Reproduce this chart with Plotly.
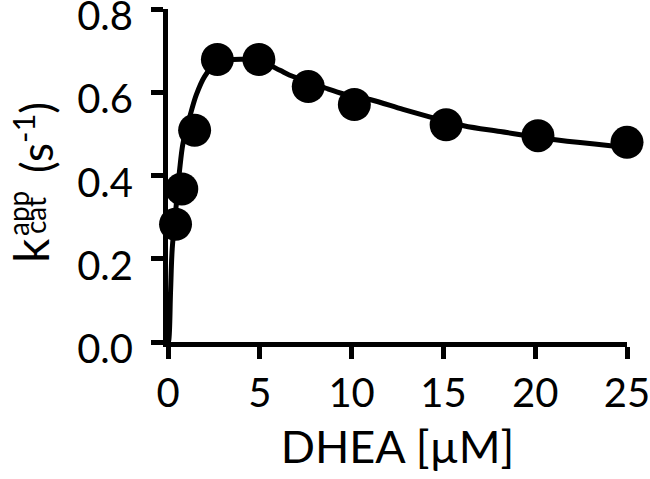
import plotly.graph_objects as go

# measured data points
dhea_uM = [0.41, 0.75, 1.45, 2.69, 4.95, 7.64, 10.15, 15.15, 20.15, 25.0]
kcat_app = [0.283, 0.368, 0.509, 0.679, 0.679, 0.614, 0.571, 0.522, 0.496, 0.480]

# fitted curve
curve_x = [0, 0.04, 0.14, 0.23, 0.45, 0.63, 0.81, 1.0, 1.27, 1.54, 1.99, 2.5, 3.2, 4.0,
           5.0, 6.1, 6.6, 7.6, 8.6, 9.6, 11.0, 12.8, 14.1, 16.1, 18.1, 21.1, 24.1, 25]
curve_y = [0, 0.004, 0.122, 0.224, 0.33, 0.413, 0.476, 0.51, 0.555, 0.594, 0.638, 0.665,
           0.677, 0.680, 0.676, 0.653, 0.642, 0.626, 0.610, 0.596, 0.583, 0.559, 0.543,
           0.520, 0.506, 0.486, 0.472, 0.469]

x_ticks = [0, 5, 10, 15, 20, 25]
y_ticks = [0.0, 0.2, 0.4, 0.6, 0.8]
y_tick_text = ["0.0", "0.2", "0.4", "0.6", "0.8"]

FONT = "Lato"
W, H = 650, 479
L, R, T, B = 168, 23, 9, 137
PW, PH = W - L - R, H - T - B


def px2paper(px, py):
    return (px - L) / PW, (H - B - py) / PH


fig = go.Figure()
fig.add_trace(go.Scatter(x=curve_x, y=curve_y, mode="lines",
                         line=dict(color="black", width=5, shape="spline"),
                         hoverinfo="skip", showlegend=False))
fig.add_trace(go.Scatter(x=dhea_uM, y=kcat_app, mode="markers",
                         marker=dict(color="black", size=33),
                         showlegend=False, cliponaxis=False))

axis_common = dict(showline=True, linecolor="black", linewidth=5, ticks="outside",
                   ticklen=12, tickwidth=5, tickcolor="black", showgrid=False,
                   zeroline=False, automargin=False, ticklabeloverflow="allow",
                   tickfont=dict(family=FONT, size=40, color="black"))
fig.update_xaxes(range=[0, 25], tickvals=x_ticks, **axis_common,
                 title=dict(text="DHEA [µM]", font=dict(family=FONT, size=45, color="black"),
                            standoff=18))
fig.update_yaxes(range=[0, 0.8005], tickvals=y_ticks, ticktext=y_tick_text,
                 ticklabelstandoff=10, ticklabelshift=7, **axis_common)

pieces = [
    ("k", 30, 251, 48),
    ("app", 18, 214, 28),
    ("cat", 35, 216, 28),
    ("(s<sup>-1</sup>)", 33, 138, 44),
]
for txt, px, py, fs in pieces:
    xp, yp = px2paper(px, py)
    fig.add_annotation(text=txt, x=xp, y=yp, xref="paper", yref="paper",
                       xanchor="center", yanchor="middle", textangle=-90,
                       showarrow=False, font=dict(family=FONT, size=fs, color="black"))

fig.update_layout(width=W, height=H, margin=dict(l=L, r=R, t=T, b=B),
                  plot_bgcolor="white", paper_bgcolor="white")
fig.write_html("out.html", config={"displayModeBar": False},
               post_script="document.body.style.margin='0';document.body.style.overflow='hidden';")
